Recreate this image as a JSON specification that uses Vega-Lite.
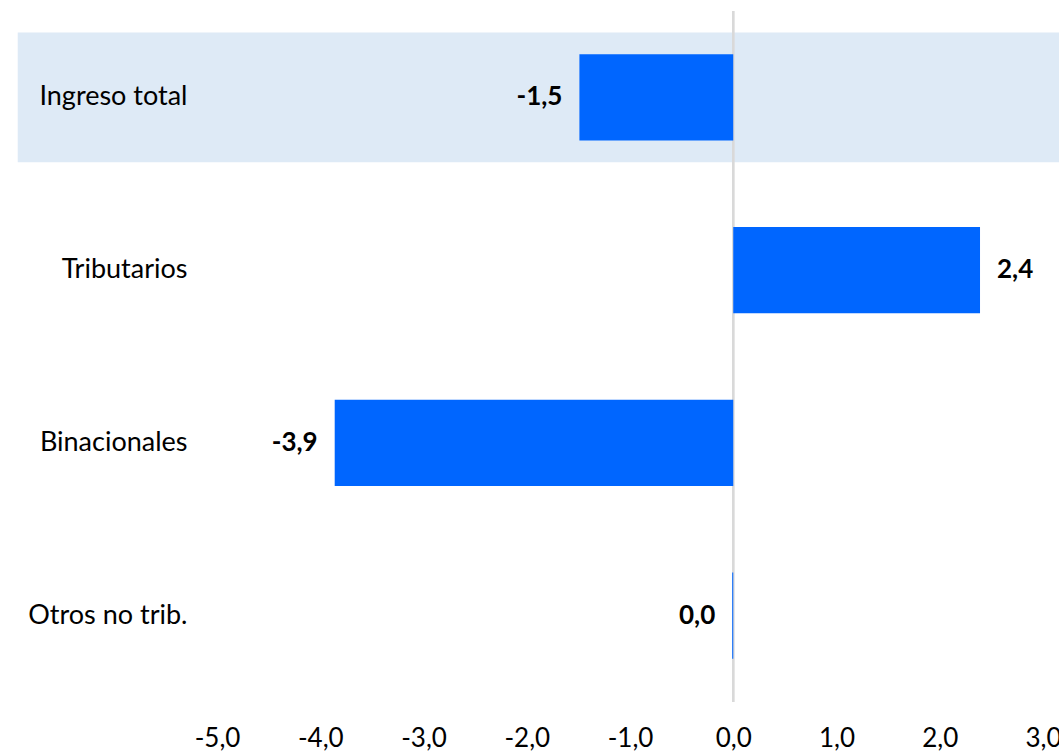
{
  "$schema": "https://vega.github.io/schema/vega-lite/v6.json",
  "width": 826,
  "height": 691,
  "autosize": {"type": "none"},
  "padding": {"left": 217, "top": 11, "right": 16, "bottom": 51},
  "background": "white",
  "config": {
    "view": {"stroke": null},
    "font": "Lato",
    "locale": {"number": {"decimal": ",", "thousands": ".", "grouping": [3], "currency": ["", ""], "minus": "-"}}
  },
  "data": {
    "values": [
      {"cat": "Ingreso total", "value": -1.49},
      {"cat": "Tributarios", "value": 2.39},
      {"cat": "Binacionales", "value": -3.86},
      {"cat": "Otros no trib.", "value": -0.01}
    ]
  },
  "encoding": {
    "y": {
      "field": "cat",
      "type": "nominal",
      "sort": null,
      "scale": {"paddingInner": 0, "paddingOuter": 0},
      "axis": {
        "title": null,
        "domain": false,
        "ticks": false,
        "labelFont": "Lato",
        "labelFontSize": 27,
        "labelColor": "#000000",
        "labelPadding": 30,
        "labelAlign": "right",
        "zindex": 1
      }
    }
  },
  "layer": [
    {
      "transform": [{"filter": "datum.cat === 'Ingreso total'"}],
      "mark": {"type": "bar", "color": "#DEEAF6", "height": {"band": 0.75}},
      "encoding": {
        "x": {"datum": -6.93, "type": "quantitative", "scale": {"domain": [-5, 3]}},
        "x2": {"datum": 3.2}
      }
    },
    {
      "mark": {"type": "rule", "color": "#D9D9D9", "strokeWidth": 2},
      "encoding": {
        "x": {"datum": 0, "type": "quantitative"},
        "y": null
      }
    },
    {
      "mark": {"type": "bar", "color": "#0066FF", "height": {"band": 0.5}},
      "encoding": {
        "x": {
          "field": "value",
          "type": "quantitative",
          "scale": {"domain": [-5, 3], "nice": false, "zero": true},
          "axis": {
            "title": null,
            "values": [-5, -4, -3, -2, -1, 0, 1, 2, 3],
            "format": ".1f",
            "grid": false,
            "domain": false,
            "ticks": false,
            "labelFont": "Lato",
            "labelFontSize": 26,
            "labelColor": "#000000",
            "labelPadding": 23,
            "labelOverlap": false,
            "labelFlush": false
          }
        }
      }
    },
    {
      "transform": [{"filter": "datum.value <= 0"}],
      "mark": {"type": "text", "align": "right", "baseline": "middle", "dx": -17, "fontWeight": "bold", "fontSize": 26, "font": "Lato", "color": "#000000"},
      "encoding": {
        "x": {"field": "value", "type": "quantitative"},
        "text": {"field": "value", "type": "quantitative", "format": ".1f"}
      }
    },
    {
      "transform": [{"filter": "datum.value > 0"}],
      "mark": {"type": "text", "align": "left", "baseline": "middle", "dx": 17, "fontWeight": "bold", "fontSize": 26, "font": "Lato", "color": "#000000"},
      "encoding": {
        "x": {"field": "value", "type": "quantitative"},
        "text": {"field": "value", "type": "quantitative", "format": ".1f"}
      }
    }
  ]
}
